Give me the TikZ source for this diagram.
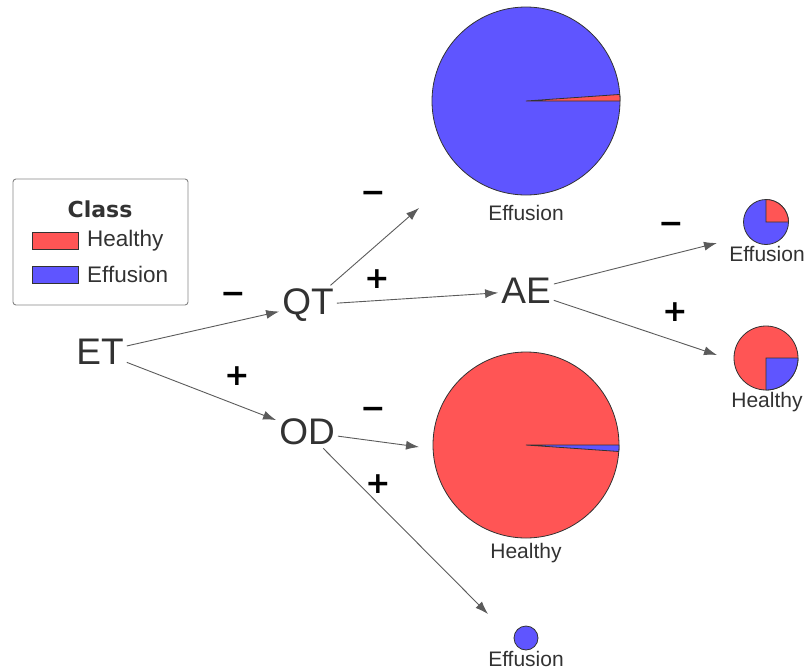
\documentclass[tikz,border=0pt]{standalone}
\usepackage{fontspec}
\setmainfont{Liberation Sans}
\newfontfamily\signfont{DejaVu Sans}
\usetikzlibrary{arrows.meta}
\definecolor{healthy}{RGB}{255,85,85}
\definecolor{effusion}{RGB}{95,85,255}
\definecolor{ink}{RGB}{50,50,50}

\begin{document}
\begin{tikzpicture}[x=1pt,y=1pt,
  var/.style={font=\fontsize{37}{37}\selectfont, text=ink, inner sep=3pt},
  sign/.style={font=\signfont\bfseries\fontsize{30}{30}\selectfont, text=black, inner sep=0pt},
  lab/.style={font=\fontsize{21}{21}\selectfont, text=ink, inner sep=0pt},
  link/.style={draw=ink!80, line width=0.9pt, -{Latex[length=13pt,width=9pt]}},
  wedge/.style={draw=ink, line width=0.8pt}]
  \useasboundingbox (0,0) rectangle (804,-670);

  % legend
  \draw[ink!60, line width=0.9pt, rounded corners=3pt] (13,-179) rectangle (188,-305);
  \node[font=\signfont\bfseries\fontsize{22}{22}\selectfont, text=ink] (cls) at (100,-209) {Class};
  \filldraw[wedge, fill=healthy] (32,-232) rectangle (78,-249);
  \filldraw[wedge, fill=effusion] (32,-266) rectangle (78,-283);
  \node[font=\fontsize{22.5}{22.5}\selectfont, text=ink, anchor=west, inner sep=0pt] (lh) at (87,-241) {Healthy};
  \node[font=\fontsize{22.5}{22.5}\selectfont, text=ink, anchor=west, inner sep=0pt] (le) at (87,-274) {Effusion};

  % variables
  \node[var] (ET) at (100,-352) {ET};
  \node[var] (QT) at (308,-305) {QT};
  \node[var] (OD) at (307,-432) {OD};
  \node[var] (AE) at (526,-291) {AE};

  % pies
  \filldraw[wedge, fill=effusion] (526,-101) circle (94);
  \filldraw[wedge, fill=healthy] (526,-101) -- ++(0:94) arc (0:4:94) -- cycle;
  \node[lab] (lQT) at (526,-213) {Effusion};

  \filldraw[wedge, fill=healthy] (526,-445) circle (93);
  \filldraw[wedge, fill=effusion] (526,-445) -- ++(0:93) arc (0:-4:93) -- cycle;
  \node[lab] (lOD1) at (526,-553) {Healthy};

  \filldraw[wedge, fill=effusion] (526,-638) circle (12);
  \node[lab] (lOD2) at (526,-659) {Effusion};

  \filldraw[wedge, fill=effusion] (766,-222) circle (22.5);
  \filldraw[wedge, fill=healthy] (766,-222) -- ++(0:22.5) arc (0:90:22.5) -- cycle;
  \node[lab] (lAE1) at (767,-254) {Effusion};

  \filldraw[wedge, fill=healthy] (766,-358) circle (32);
  \filldraw[wedge, fill=effusion] (766,-358) -- ++(-90:32) arc (-90:0:32) -- cycle;
  \node[lab] (lAE2) at (767,-402) {Healthy};

  % arrow ends at the pies
  \coordinate (tQT) at (419,-208);
  \coordinate (tAE1) at (717,-243);
  \coordinate (tAE2) at (717,-355);
  \coordinate (tOD1) at (419,-447);
  \coordinate (tOD2) at (488,-614);

  \draw[link] (ET) -- (QT);
  \draw[link] (ET) -- (OD);
  \draw[link] (QT) -- (tQT);
  \draw[link] (QT) -- (AE);
  \draw[link] (AE) -- (tAE1);
  \draw[link] (AE) -- (tAE2);
  \draw[link] (OD) -- (tOD1);
  \draw[link] (OD) -- (tOD2);

  % signs
  \node[sign] (sETQT) at (233,-298) {−};
  \node[sign] (sETOD) at (237,-376) {+};
  \node[sign] (sQT1) at (373,-197) {−};
  \node[sign] (sQT2) at (377,-279) {+};
  \node[sign] (sAE1) at (671,-228) {−};
  \node[sign] (sAE2) at (675,-312) {+};
  \node[sign] (sOD1) at (373,-413) {−};
  \node[sign] (sOD2) at (378,-484) {+};
\end{tikzpicture}
\end{document}
